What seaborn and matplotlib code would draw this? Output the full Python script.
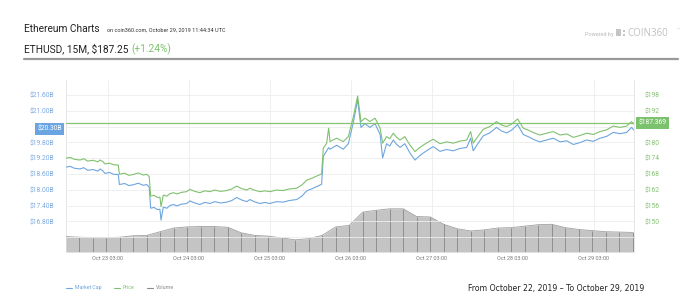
import matplotlib
matplotlib.use("Agg")
import matplotlib.pyplot as plt
import matplotlib.dates as mdates
from matplotlib.lines import Line2D
from matplotlib.patches import Rectangle
import matplotlib.transforms as mtransforms
import pandas as pd
import seaborn as sns

# ---------------- data ----------------
times = [
    "2019-10-22 14:30", "2019-10-22 15:50", "2019-10-22 17:00", "2019-10-22 18:45", "2019-10-22 19:50",
    "2019-10-22 21:00", "2019-10-22 22:40", "2019-10-23 00:00", "2019-10-23 00:40", "2019-10-23 01:30",
    "2019-10-23 02:10", "2019-10-23 03:30", "2019-10-23 04:40", "2019-10-23 06:05", "2019-10-23 06:25",
    "2019-10-23 08:00", "2019-10-23 09:10", "2019-10-23 10:30", "2019-10-23 12:00", "2019-10-23 13:30",
    "2019-10-23 14:30", "2019-10-23 15:15", "2019-10-23 15:40", "2019-10-23 16:40", "2019-10-23 17:40",
    "2019-10-23 18:25", "2019-10-23 18:45", "2019-10-23 19:25", "2019-10-23 20:30", "2019-10-23 21:20",
    "2019-10-23 22:25", "2019-10-23 23:30", "2019-10-24 00:40", "2019-10-24 02:20", "2019-10-24 03:20",
    "2019-10-24 04:30", "2019-10-24 06:15", "2019-10-24 07:40", "2019-10-24 09:15", "2019-10-24 10:40",
    "2019-10-24 12:20", "2019-10-24 14:10", "2019-10-24 15:40", "2019-10-24 17:10", "2019-10-24 18:30",
    "2019-10-24 20:10", "2019-10-24 21:05", "2019-10-24 22:30", "2019-10-25 00:05", "2019-10-25 01:30",
    "2019-10-25 03:00", "2019-10-25 05:00", "2019-10-25 06:55", "2019-10-25 08:40", "2019-10-25 10:55",
    "2019-10-25 12:30", "2019-10-25 13:55", "2019-10-25 15:30", "2019-10-25 16:50", "2019-10-25 18:20",
    "2019-10-25 18:50", "2019-10-25 19:50", "2019-10-25 20:25", "2019-10-25 20:50", "2019-10-25 21:50",
    "2019-10-25 22:50", "2019-10-25 23:50", "2019-10-26 00:45", "2019-10-26 02:15", "2019-10-26 03:45",
    "2019-10-26 05:00", "2019-10-26 06:00", "2019-10-26 07:10", "2019-10-26 08:40", "2019-10-26 10:10",
    "2019-10-26 11:40", "2019-10-26 12:25", "2019-10-26 13:35", "2019-10-26 14:30", "2019-10-26 15:35",
    "2019-10-26 16:30", "2019-10-26 17:35", "2019-10-26 19:00", "2019-10-26 20:30", "2019-10-26 22:00",
    "2019-10-26 23:10", "2019-10-27 00:30", "2019-10-27 02:00", "2019-10-27 03:25", "2019-10-27 05:25",
    "2019-10-27 07:20", "2019-10-27 09:20", "2019-10-27 11:20", "2019-10-27 13:20", "2019-10-27 14:30",
    "2019-10-27 15:15", "2019-10-27 16:40", "2019-10-27 18:15", "2019-10-27 20:10", "2019-10-27 22:10",
    "2019-10-27 23:40", "2019-10-28 01:10", "2019-10-28 02:40", "2019-10-28 04:25", "2019-10-28 06:05",
    "2019-10-28 07:40", "2019-10-28 09:20", "2019-10-28 11:00", "2019-10-28 13:00", "2019-10-28 15:00",
    "2019-10-28 17:00", "2019-10-28 19:00", "2019-10-28 20:55", "2019-10-28 22:50", "2019-10-29 00:50",
    "2019-10-29 02:50", "2019-10-29 04:50", "2019-10-29 06:50", "2019-10-29 08:45", "2019-10-29 10:45",
    "2019-10-29 12:45", "2019-10-29 14:10", "2019-10-29 14:50",
]
price = [
    174.0, 174.3, 173.6, 173.3, 173.8, 172.9, 173.2, 172.6, 173.3, 172.7,
    171.8, 172.1, 171.5, 171.4, 167.9, 168.3, 167.5, 167.8, 168.4, 167.6,
    167.9, 167.0, 159.6, 159.9, 159.1, 159.2, 155.6, 160.0, 159.6, 160.5,
    160.9, 160.4, 161.0, 161.3, 162.2, 161.5, 160.9, 161.6, 161.3, 161.9,
    161.4, 161.7, 162.3, 163.4, 162.5, 161.9, 162.6, 161.8, 161.3, 161.6,
    161.3, 161.9, 161.7, 162.3, 162.6, 163.8, 165.7, 166.4, 167.2, 168.0,
    177.8, 179.7, 185.4, 180.3, 181.0, 181.6, 180.9, 180.3, 182.2, 189.8,
    197.6, 187.9, 189.2, 187.9, 189.2, 185.4, 179.7, 182.2, 181.4, 183.5,
    182.0, 180.9, 182.2, 179.0, 176.5, 177.8, 179.0, 180.2, 181.2, 179.5,
    180.2, 179.7, 180.5, 180.9, 184.1, 179.7, 182.3, 185.0, 186.0, 187.9,
    186.6, 186.0, 187.0, 188.9, 185.4, 184.6, 183.6, 182.8, 183.5, 184.1,
    182.8, 183.2, 181.9, 182.6, 183.5, 183.0, 184.1, 184.8, 186.2, 185.7,
    186.2, 187.9, 187.0,
]
market_cap_b = [
    18.86, 18.89, 18.82, 18.79, 18.84, 18.74, 18.77, 18.71, 18.79, 18.72,
    18.62, 18.66, 18.59, 18.58, 18.20, 18.24, 18.16, 18.19, 18.25, 18.17,
    18.20, 18.10, 17.30, 17.33, 17.25, 17.26, 16.85, 17.34, 17.30, 17.40,
    17.44, 17.39, 17.45, 17.48, 17.58, 17.51, 17.44, 17.52, 17.48, 17.55,
    17.50, 17.53, 17.59, 17.71, 17.62, 17.55, 17.63, 17.54, 17.48, 17.52,
    17.48, 17.55, 17.53, 17.59, 17.63, 17.76, 17.96, 18.04, 18.12, 18.21,
    19.27, 19.48, 19.60, 19.54, 19.62, 19.69, 19.61, 19.54, 19.75, 20.57,
    21.42, 20.37, 20.51, 20.37, 20.51, 20.10, 19.21, 19.75, 19.66, 19.89,
    19.73, 19.61, 19.75, 19.40, 19.13, 19.27, 19.40, 19.53, 19.64, 19.46,
    19.53, 19.48, 19.57, 19.61, 19.96, 19.48, 19.76, 20.05, 20.16, 20.37,
    20.23, 20.16, 20.27, 20.48, 20.10, 20.01, 19.90, 19.82, 19.89, 19.96,
    19.82, 19.86, 19.72, 19.79, 19.89, 19.84, 19.96, 20.03, 20.18, 20.13,
    20.18, 20.37, 20.27,
]
volume_start = "2019-10-22 14:30"
volume_musd = [
    420, 400, 390, 390, 400, 440, 450, 550, 650, 680,
    690, 690, 670, 520, 450, 430, 380, 330, 360, 450,
    680, 720, 1080, 1130, 1170, 1170, 960, 950, 750, 630,
    570, 600, 650, 660, 700, 740, 750, 660, 610, 580,
    550, 540, 530,
]
current_price = 187.369
current_cap_label = "$20.30B"
current_price_label = "$187.369"
mc_ticks = [16.2, 16.8, 17.4, 18.0, 18.6, 19.2, 19.8, 20.4, 21.0, 21.6]
price_ticks = [150, 156, 162, 168, 174, 180, 186, 192, 198]
xtick_times = ["2019-10-23 03:00", "2019-10-24 03:00", "2019-10-25 03:00", "2019-10-26 03:00",
               "2019-10-27 03:00", "2019-10-28 03:00", "2019-10-29 03:00"]

# ---------------- style ----------------
sns.set_theme(style="white")
plt.rcParams["font.family"] = ["Roboto", "DejaVu Sans"]

BLUE = "#6ea6de"
GREEN = "#80c16f"
BLUE_TXT = "#7eaadc"
GREEN_TXT = "#86c176"
GRID = "#ececec"

df = pd.DataFrame({"time": pd.to_datetime(times), "price": price, "mc": market_cap_b})
vt = pd.date_range(volume_start, periods=len(volume_musd), freq="4h")
dv = pd.DataFrame({"time": vt, "vol": volume_musd})

fig = plt.figure(figsize=(7, 3.06), dpi=100)
W, H = 700, 306
ax = fig.add_axes([65.7 / W, 1 - 252 / H, (634 - 65.7) / W, (252 - 80) / H])
ax_mc = ax.twinx()
ax_p = ax.twinx()

# volume (background)
ax.fill_between(dv["time"], 0, dv["vol"], color="#c4c4c4", lw=0, zorder=1)
ax.vlines(dv["time"], 0, dv["vol"], color="#8e8e8e", lw=0.7, zorder=2)
sns.lineplot(data=dv, x="time", y="vol", ax=ax, color="#a0a0a0", lw=0.6, zorder=3)
ax.set_ylim(0, 4660)
ax.set_yticks([])
ax.set_ylabel("")
ax.set_xlabel("")

xmin = pd.Timestamp("2019-10-22 14:30")
xmax = pd.Timestamp("2019-10-29 14:54")
ax.set_xlim(xmin, xmax)
ax.set_xticks(pd.to_datetime(xtick_times))
ax.xaxis.set_major_formatter(mdates.DateFormatter("%b %d %H:%M"))
ax.tick_params(axis="x", length=0, labelsize=4.0, labelcolor="#7a7a7a", pad=3)
ax.grid(axis="x", color=GRID, lw=0.6)
ax.set_axisbelow(True)
for s in ["top", "bottom"]:
    ax.spines[s].set_visible(False)
for s in ["left", "right"]:
    ax.spines[s].set_color("#e2e2e2")
    ax.spines[s].set_linewidth(0.6)

# market cap (left)
sns.lineplot(data=df, x="time", y="mc", ax=ax_mc, color=BLUE, lw=0.8)
ax_mc.set_ylim(15.638, 22.169)
ax_mc.yaxis.tick_left()
ax_mc.set_yticks(mc_ticks)
ax_mc.set_yticklabels(["" if (t < 16.5 or abs(t - 20.4) < 0.01) else f"${t:.2f}B" for t in mc_ticks])
ax_mc.tick_params(axis="y", length=0, labelsize=4.9, labelcolor=BLUE_TXT, pad=8)
ax_mc.grid(axis="y", color=GRID, lw=0.6)
ax_mc.set_ylabel("")
ax_mc.set_xlabel("")
for s in ax_mc.spines.values():
    s.set_visible(False)

# price (right)
sns.lineplot(data=df, x="time", y="price", ax=ax_p, color=GREEN, lw=0.8)
ax_p.axhline(current_price, color="#86c673", lw=0.9, zorder=1)
ax_p.set_ylim(138.38, 203.69)
ax_p.set_yticks(price_ticks)
ax_p.set_yticklabels(["" if t == 186 else f"${t}" for t in price_ticks])
ax_p.tick_params(axis="y", length=0, labelsize=4.9, labelcolor=GREEN_TXT, pad=8)
ax_p.set_ylabel("")
ax_p.set_xlabel("")
ax_p.grid(False)
for s in ax_p.spines.values():
    s.set_visible(False)
for a in (ax_mc, ax_p):
    a.set_xlim(xmin, xmax)

# current value boxes
tr_l = mtransforms.blended_transform_factory(ax_mc.transAxes, ax_mc.transData)
ax_mc.text(-0.0068, 20.30, current_cap_label, transform=tr_l, ha="right", va="center",
           fontsize=4.9, color="white", clip_on=False,
           bbox=dict(boxstyle="square,pad=0.35", fc="#6aa5e2", ec="none"))
tr_r = mtransforms.blended_transform_factory(ax_p.transAxes, ax_p.transData)
ax_p.text(1.0078, current_price, current_price_label, transform=tr_r, ha="left", va="center",
          fontsize=4.9, color="white", clip_on=False,
          bbox=dict(boxstyle="square,pad=0.35", fc="#7cc26e", ec="none"))

# ---------------- header ----------------
def fy(y):
    return 1 - y / H

fig.text(24 / W, fy(32), "Ethereum Charts", fontsize=7.3, color="#222222", va="baseline")
fig.text(107 / W, fy(32), "on coin360.com, October 29, 2019 11:44:34 UTC", fontsize=4.0,
         color="#333333", va="baseline")
t1 = fig.text(24 / W, fy(52), "ETHUSD, 15M, $187.25", fontsize=7.3, color="#222222", va="baseline")
fig.canvas.draw()
bb = t1.get_window_extent(fig.canvas.get_renderer())
fig.text((bb.x1 + 3) / W, fy(52), "(+1.24%)", fontsize=7.3, color="#7cc26e", va="baseline")

fig.add_artist(Line2D([24 / W, 678 / W], [fy(58.5), fy(58.5)], color="#9a9a9a", lw=1.6))

fig.text(585 / W, fy(36), "Powered by", fontsize=4.0, color="#bbbbbb", va="baseline")
fig.add_artist(Rectangle((616 / W, fy(36)), 5 / W, 7 / H, transform=fig.transFigure,
                         color="#c4c4c4", lw=0))
fig.add_artist(Rectangle((622.5 / W, fy(36)), 2 / W, 2 / H, transform=fig.transFigure,
                         color="#c4c4c4", lw=0))
fig.add_artist(Rectangle((622.5 / W, fy(32)), 2 / W, 2 / H, transform=fig.transFigure,
                         color="#c4c4c4", lw=0))
fig.text(627 / W, fy(36), "COIN360", fontsize=7.0, color="#c0c0c0", va="baseline",
         family=["Open Sans", "DejaVu Sans"])
fig.text(677 / W, fy(31), "™", fontsize=3.5, color="#c0c0c0", va="baseline")

# ---------------- legend / footer ----------------
ly = 289
for x0, col, lab in [(66, BLUE, "Market Cap"), (114, GREEN, "Price"), (147, "#8a8a8a", "Volume")]:
    fig.add_artist(Line2D([x0 / W, (x0 + 6) / W], [fy(ly - 1.5), fy(ly - 1.5)], color=col, lw=0.8))
    fig.text((x0 + 9) / W, fy(ly), lab, fontsize=3.8, color=col, va="baseline")

fig.text(644 / W, fy(291), "From October 22, 2019 \u2013 To October 29, 2019", fontsize=5.6,
         color="#222222", ha="right", va="baseline",
         family=["Liberation Sans Narrow", "DejaVu Sans"])

fig.savefig("out.png", dpi=100)
